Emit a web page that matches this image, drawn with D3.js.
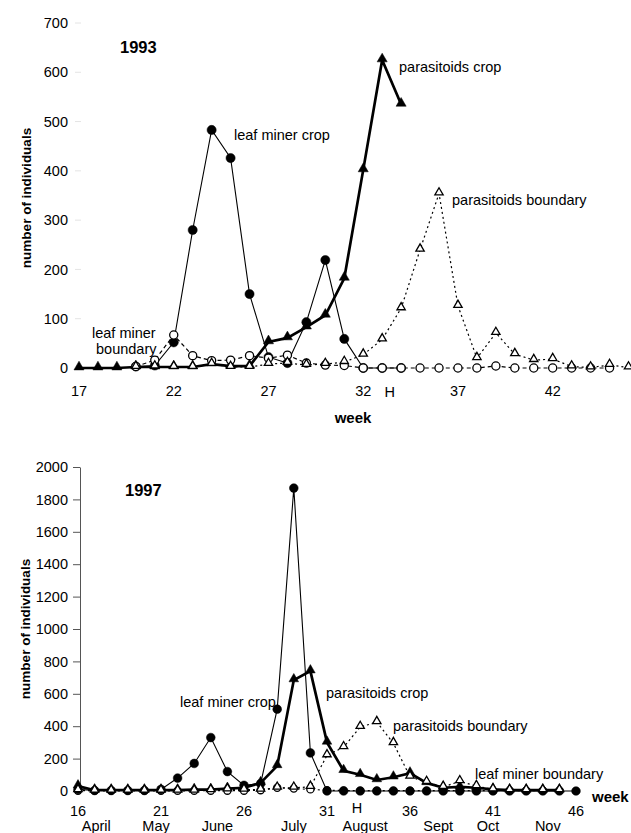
<!DOCTYPE html>
<html>
<head>
<meta charset="utf-8">
<script src="https://cdnjs.cloudflare.com/ajax/libs/d3/7.8.5/d3.min.js"></script>
<style>
  body { margin: 0; background: #fff; }
  text { font-family: "Liberation Sans", Arial, sans-serif; fill: #000; }
</style>
</head>
<body>
<script>
// ---- 1993 data ----
var weeks93 = [17,18,19,20,21,22,23,24,25,26,27,28,29,30,31,32,33,34,35,36,37,38,39,40,41,42,43,44,45,46];
var leafCrop93  = [null,null,null,3,5,52,280,483,426,150,22,10,93,219,59,0,0,0,null,null,null,null,null,null,null,null,null,null,null,null];
var leafBound93 = [null,null,null,3,16,67,25,15,16,25,20,26,10,6,5,0,0,0,0,0,0,0,4,0,0,0,0,0,0,null];
var parCrop93   = [0,0,0,2,2,2,2,8,4,4,53,61,83,107,182,402,625,535,null,null,null,null,null,null,null,null,null,null,null,null];
var parBound93  = [null,null,null,2,3,2,2,8,2,2,8,10,6,8,12,27,58,121,240,354,126,20,71,28,16,18,3,1,6,1];
var xTicks93 = [17,22,27,32,37,42];
var yTicks93 = [0,100,200,300,400,500,600,700];
var harvest93 = 33.4;

// ---- 1997 data ----
var weeks97 = [16,17,18,19,20,21,22,23,24,25,26,27,28,29,30,31,32,33,34,35,36,37,38,39,40,41,42,43,44,45,46];
var leafCrop97  = [10,3,3,3,3,10,80,170,330,120,35,45,505,1870,235,0,0,0,0,0,0,0,0,0,0,0,0,0,0,0,0];
var leafBound97 = [2,2,2,2,2,2,2,2,2,2,2,5,20,15,10,5,3,2,2,2,2,2,2,2,2,2,2,2,2,2,null];
var parCrop97   = [30,5,5,5,5,5,5,8,8,15,20,50,155,685,740,300,125,100,68,85,110,50,20,25,20,10,5,5,5,5,null];
var parBound97  = [5,2,2,2,2,2,2,2,5,10,8,8,20,20,25,220,270,395,425,295,88,55,25,60,30,10,5,5,5,5,null];
var xTicks97 = [16,21,26,31,36,41,46];
var yTicks97 = [0,200,400,600,800,1000,1200,1400,1600,1800,2000];
var months = ["April","May","June","July","August","Sept","Oct","Nov"];
var monthWeeks = [17.1,20.7,24.4,29,33.3,37.7,40.7,44.3];
var harvest97 = 32.8;

var FS = 14.5;

var svg = d3.select("body").append("svg")
  .attr("width", 631)
  .attr("height", 833);

function pairs(weeks, vals) {
  return weeks.map(function(w, i) { return {w: w, v: vals[i]}; })
    .filter(function(d) { return d.v !== null; });
}

// draw one series: line + markers
function series(g, x, y, data, opt) {
  var line = d3.line().x(d => x(d.w)).y(d => y(d.v));
  g.append("path")
    .datum(data)
    .attr("d", line)
    .attr("fill", "none")
    .attr("stroke", "#000")
    .attr("stroke-width", opt.width)
    .attr("stroke-dasharray", opt.dash || null);
  var sym = d3.symbol().type(opt.shape == "tri" ? d3.symbolTriangle : d3.symbolCircle).size(opt.size);
  g.selectAll(null)
    .data(data)
    .enter()
    .append("path")
    .attr("d", sym)
    .attr("transform", d => "translate(" + x(d.w) + "," + (y(d.v) + (opt.shape == "tri" ? -1 : 0)) + ")")
    .attr("fill", opt.filled ? "#000" : "#fff")
    .attr("stroke", "#000")
    .attr("stroke-width", opt.filled ? 0.5 : 1.3);
}

function label(txt, x, y, bold, size, anchor) {
  svg.append("text")
    .attr("x", x).attr("y", y)
    .attr("font-size", (size || FS) + "px")
    .attr("font-weight", bold ? "bold" : "normal")
    .attr("text-anchor", anchor || "start")
    .text(txt);
}

// ================= 1993 =================
var x1 = d3.scaleLinear().domain([17, 46]).range([79, 628.5]);
var y1 = d3.scaleLinear().domain([0, 700]).range([368, 23]);
var g1 = svg.append("g");

// faint ticks only
g1.selectAll(".yt1").data(yTicks93).enter().append("line")
  .attr("x1", 75).attr("x2", 81)
  .attr("y1", d => y1(d)).attr("y2", d => y1(d))
  .attr("stroke", "#e4e4e4");
g1.selectAll(".yl1").data(yTicks93).enter().append("text")
  .attr("x", 68).attr("y", d => y1(d)).attr("dy", "0.35em")
  .attr("text-anchor", "end").attr("font-size", FS + "px")
  .text(d => d);
g1.selectAll(".xl1").data(xTicks93).enter().append("text")
  .attr("x", d => x1(d)).attr("y", 396)
  .attr("text-anchor", "middle").attr("font-size", FS + "px")
  .text(d => d);

series(g1, x1, y1, pairs(weeks93, leafCrop93), {width: 1.1, shape: "circle", filled: true, size: 66});
series(g1, x1, y1, pairs(weeks93, parCrop93), {width: 2.7, shape: "tri", filled: true, size: 44});
series(g1, x1, y1, pairs(weeks93, leafBound93), {width: 1.2, dash: "4,3", shape: "circle", filled: false, size: 52});
series(g1, x1, y1, pairs(weeks93, parBound93), {width: 1.2, dash: "2,3", shape: "tri", filled: false, size: 30});

label("1993", 120, 53, true, 16.5);
label("leaf miner crop", 234, 140);
label("parasitoids crop", 399, 72);
label("parasitoids boundary", 452, 205);
label("leaf miner", 92, 338);
label("boundary", 96, 354);
label("H", x1(harvest93), 397, false, FS, "middle");
label("week", 353, 423, true, 15, "middle");
svg.append("text")
  .attr("transform", "translate(31,198) rotate(-90)")
  .attr("text-anchor", "middle").attr("font-size", "13.5px").attr("font-weight", "bold")
  .text("number of individuals");

// ================= 1997 =================
var x2 = d3.scaleLinear().domain([16, 46]).range([78, 576]);
var y2 = d3.scaleLinear().domain([0, 2000]).range([791, 467]);
var g2 = svg.append("g");

var yAxis2 = d3.axisLeft(y2).tickValues(yTicks97).tickFormat(d3.format("d"))
  .tickSize(7).tickSizeOuter(0).tickPadding(5);
g2.append("g")
  .attr("transform", "translate(80,0)")
  .call(yAxis2)
  .call(g => g.select(".domain").attr("stroke", "#555"))
  .call(g => g.selectAll(".tick line").attr("stroke", "#555"))
  .call(g => g.selectAll("text").attr("font-size", FS + "px").attr("fill", "#000")
    .attr("font-family", "Liberation Sans, Arial, sans-serif"));

g2.selectAll(".xl2").data(xTicks97).enter().append("text")
  .attr("x", d => x2(d)).attr("y", 816)
  .attr("text-anchor", "middle").attr("font-size", FS + "px")
  .text(d => d);
g2.selectAll(".ml2").data(months).enter().append("text")
  .attr("x", (d, i) => x2(monthWeeks[i])).attr("y", 831)
  .attr("text-anchor", "middle").attr("font-size", FS + "px")
  .text(d => d);

series(g2, x2, y2, pairs(weeks97, leafBound97), {width: 1.2, dash: "2,3", shape: "circle", filled: false, size: 40});
series(g2, x2, y2, pairs(weeks97, leafCrop97), {width: 1.1, shape: "circle", filled: true, size: 60});
series(g2, x2, y2, pairs(weeks97, parCrop97), {width: 2.7, shape: "tri", filled: true, size: 40});
series(g2, x2, y2, pairs(weeks97, parBound97), {width: 1.2, dash: "2,3", shape: "tri", filled: false, size: 30});

label("1997", 125, 496, true, 16.5);
label("leaf miner crop", 180, 707);
label("parasitoids crop", 326, 698);
label("parasitoids boundary", 393, 731);
label("leaf miner boundary", 475, 779);
label("H", x2(harvest97), 813, false, FS, "middle");
label("week", 592, 802, true, 15);
svg.append("text")
  .attr("transform", "translate(30,629) rotate(-90)")
  .attr("text-anchor", "middle").attr("font-size", "13.5px").attr("font-weight", "bold")
  .text("number of individuals");
</script>
</body>
</html>
